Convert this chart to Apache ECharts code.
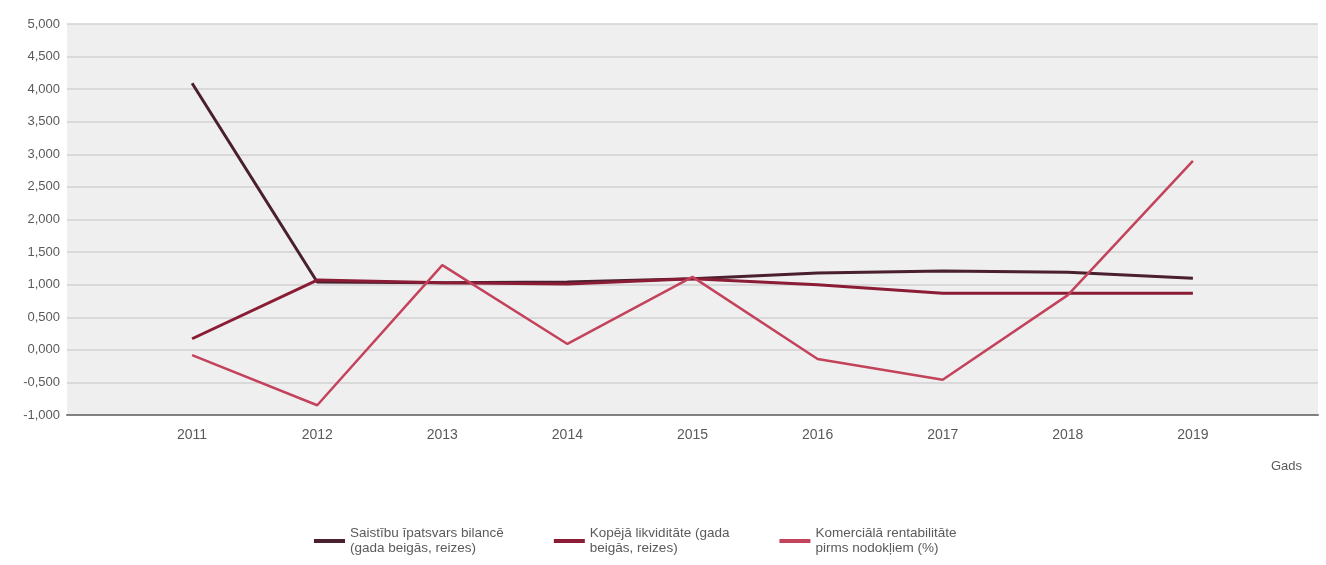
<!DOCTYPE html>
<html lang="lv">
<head>
    <meta charset="UTF-8">
    <title>Rādītāji</title>
    <script src="https://cdn.jsdelivr.net/npm/echarts@6/dist/echarts.min.js"></script>
    <style>
        body { margin: 0; background: #fff; }
        #chart { width: 1326px; height: 565px; }
    </style>
</head>
<body>
    <div id="chart"></div>
    <script>
        // dati
        var years = [2011, 2012, 2013, 2014, 2015, 2016, 2017, 2018, 2019];
        var saistibas = [4.09, 1.04, 1.03, 1.04, 1.09, 1.18, 1.21, 1.19, 1.10];
        var likviditate = [0.17, 1.07, 1.03, 1.01, 1.09, 1.00, 0.87, 0.87, 0.87];
        var rentabilitate = [-0.08, -0.85, 1.30, 0.09, 1.12, -0.14, -0.46, 0.84, 2.90];
        var seriesNames = [
            'Saistību īpatsvars bilancē\n(gada beigās, reizes)',
            'Kopējā likviditāte (gada\nbeigās, reizes)',
            'Komerciālā rentabilitāte\npirms nodokļiem (%)'
        ];
        var colors = ['#4a1f2e', '#8a1c36', '#c4435c'];

        function pairs(vals) {
            return years.map(function (y, i) { return [y, vals[i]]; });
        }

        var chart = echarts.init(document.getElementById('chart'));

        var option = {
            animation: false,
            color: colors,
            grid: {
                left: 67, right: 8, top: 24, bottom: 150,
                show: true, backgroundColor: '#efefef', borderWidth: 0
            },
            legend: {
                top: 521,
                left: 309,
                icon: 'rect',
                itemWidth: 31,
                itemHeight: 4,
                itemGap: 50,
                textStyle: { color: '#5a5a5a', fontSize: 13.5, fontFamily: 'Arial', lineHeight: 15 },
                data: seriesNames
            },
            xAxis: {
                type: 'value',
                min: 2010,
                max: 2020,
                interval: 1,
                name: 'Gads',
                nameLocation: 'end',
                nameGap: -16,
                nameTextStyle: {
                    color: '#5a5a5a', fontSize: 13, fontFamily: 'Arial',
                    align: 'right', verticalAlign: 'top', padding: [45, 0, 0, 0]
                },
                axisLine: { onZero: false, lineStyle: { color: '#808080', width: 2 } },
                axisTick: { show: false },
                splitLine: { show: false },
                axisLabel: {
                    color: '#5a5a5a', fontSize: 14, fontFamily: 'Arial', margin: 13,
                    formatter: function (v) {
                        return (v < years[0] || v > years[years.length - 1]) ? '' : String(v);
                    }
                }
            },
            yAxis: {
                type: 'value',
                min: -1,
                max: 5,
                interval: 0.5,
                axisLine: { show: false },
                axisTick: { show: false },
                splitLine: { lineStyle: { color: '#d2d2d2', width: 1.5 } },
                axisLabel: {
                    color: '#5a5a5a', fontSize: 13, fontFamily: 'Arial', margin: 7,
                    formatter: function (v) {
                        return v.toFixed(3).replace('.', ',');
                    }
                }
            },
            series: [
                {
                    name: seriesNames[0], type: 'line', data: pairs(saistibas),
                    showSymbol: false, lineStyle: { width: 3 }, z: 3
                },
                {
                    name: seriesNames[1], type: 'line', data: pairs(likviditate),
                    showSymbol: false, lineStyle: { width: 3 }, z: 4
                },
                {
                    name: seriesNames[2], type: 'line', data: pairs(rentabilitate),
                    showSymbol: false, lineStyle: { width: 2.5 }, z: 5
                }
            ]
        };

        chart.setOption(option);
    </script>
</body>
</html>
